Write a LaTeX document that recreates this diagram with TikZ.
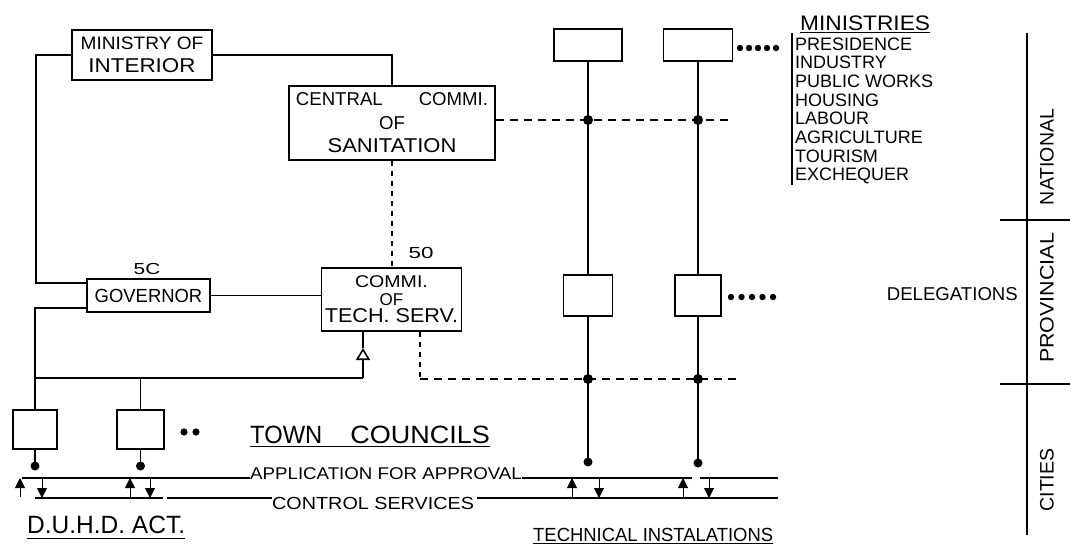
\documentclass[tikz,border=0pt]{standalone}
\usepackage{fontspec}
\setmainfont{Liberation Sans}
\usepackage{graphicx}
\usetikzlibrary{arrows.meta,calc}
\newcommand\sx[2]{\scalebox{#1}[1]{#2}}
\begin{document}
\begin{tikzpicture}[x=1pt,y=-1pt,
  box/.style={draw,line width=1.5pt,inner sep=0pt,align=center},
  ln/.style={line width=1.1pt},
  dsh/.style={line width=1.1pt,dash pattern=on 8pt off 6pt},
  dshv/.style={line width=1.1pt,dash pattern=on 5pt off 5pt},
  ar/.style={line width=1pt,-{Triangle[width=10pt,length=10pt]}},
  lbl/.style={inner sep=0pt}]
\useasboundingbox[fill=white] (0,0) rectangle (1071,546);

% ---- boxes
\node[box,minimum width=140pt,minimum height=50pt,font=\fontsize{18}{23}\selectfont] (mi) at (142,55)
  {\sx{1.06}{MINISTRY OF}\\\fontsize{20}{23}\selectfont\sx{1.12}{INTERIOR}};
\node[box,minimum width=206pt,minimum height=74pt,font=\fontsize{18.6}{23.5}\selectfont] (csan) at (392,123)
  {CENTRAL\hspace{36pt}COMMI.\\OF\\\fontsize{20}{23.5}\selectfont\sx{1.1}{SANITATION}};
\node[box,minimum width=123pt,minimum height=33pt,font=\fontsize{19}{23}\selectfont] (gov) at (148.5,295.5)
  {\sx{0.97}{GOVERNOR}};
\node[box,minimum width=140pt,minimum height=63pt,font=\fontsize{17}{17.5}\selectfont] (cts) at (391.5,299.5)
  {\sx{1.15}{COMMI.}\\OF\\\fontsize{20}{17.5}\selectfont\sx{1.08}{TECH. SERV.}};
\node[box,minimum width=68pt,minimum height=32pt] (m1) at (588,45) {};
\node[box,minimum width=69pt,minimum height=32pt] (m2) at (698,45) {};
\node[box,minimum width=49pt,minimum height=41pt] (d1) at (588,295.5) {};
\node[box,minimum width=46pt,minimum height=41pt] (d2) at (698,295.5) {};
\node[box,minimum width=44pt,minimum height=39pt] (t1) at (35,429.5) {};
\node[box,minimum width=47pt,minimum height=39pt] (t2) at (140.5,429.5) {};

% ---- labels
\node[lbl,font=\fontsize{16}{16}\selectfont] (n50) at (421,253) {\sx{1.4}{50}};
\node[lbl,font=\fontsize{16}{16}\selectfont] (n5c) at (147,269) {\sx{1.3}{5C}};
\node[lbl,anchor=base west,font=\fontsize{25}{25}\selectfont] (tc) at (250,443)
  {\sx{0.95}{TOWN}\hspace{28pt}\sx{1.08}{COUNCILS}};
\node[lbl,anchor=base west,font=\fontsize{17}{17}\selectfont] (app) at (250,479)
  {\sx{1.1}{APPLICATION FOR APPROVAL}};
\node[lbl,anchor=base west,font=\fontsize{17.5}{17.5}\selectfont] (ctl) at (272,509)
  {\sx{1.13}{CONTROL SERVICES}};
\node[lbl,anchor=base west,font=\fontsize{25}{25}\selectfont] (duhd) at (27,533)
  {\sx{0.98}{D.U.H.D. ACT.}};
\node[lbl,anchor=base west,font=\fontsize{19}{19}\selectfont] (tech) at (533,541)
  {\sx{0.97}{TECHNICAL INSTALATIONS}};
\node[lbl,anchor=base west,font=\fontsize{21}{21}\selectfont] (mins) at (800,30)
  {\sx{1.08}{MINISTRIES}};
\foreach \t [count=\i] in {PRESIDENCE,INDUSTRY,PUBLIC WORKS,HOUSING,LABOUR,AGRICULTURE,TOURISM,EXCHEQUER}
  \node[lbl,anchor=base west,font=\fontsize{18}{18}\selectfont] (ml\i) at (795,{50+18.7*(\i-1)}) {\t};
\node[lbl,anchor=base east,font=\fontsize{18.6}{18.6}\selectfont] (dele) at (1018,300) {DELEGATIONS};
\node[lbl,rotate=90,font=\fontsize{19.5}{19.5}\selectfont] (nat) at (1047,157) {NATIONAL};
\node[lbl,rotate=90,font=\fontsize{19.5}{19.5}\selectfont] (prov) at (1047,298) {\sx{1.1}{PROVINCIAL}};
\node[lbl,rotate=90,font=\fontsize{19.5}{19.5}\selectfont] (cit) at (1047,480) {CITIES};

% ---- underlines
\draw[ln] ([yshift=-3pt]tc.south west) -- ([yshift=-3pt]tc.south east);
\draw[ln] ([yshift=-5pt]duhd.south west) -- ([yshift=-5pt]duhd.south east);
\draw[ln] ([yshift=-2.5pt]tech.south west) -- ([yshift=-2.5pt]tech.south east);
\draw[ln] ([yshift=-2pt]mins.south west) -- ([yshift=-2pt]mins.south east);
\coordinate (lb0) at (792,33);
\coordinate (lb1) at (792,185);
\draw[ln] (lb0) -- (lb1);

% ---- left hierarchy
\coordinate (cA) at (36,283);
\draw[ln] (mi.west) -| (cA) -- (cA -| gov.west);
\draw[ln] (mi.east) -| (csan.north);
\draw[dshv] (csan.south) -- (csan.south |- cts.north);
\draw[ln] (gov.east) -- (gov.east -| cts.west);
\coordinate (cB) at (35,308);
\draw[ln] (cB -| gov.west) -| (t1.north);
\coordinate (cC) at (35,378);
\coordinate (cD) at (363,378);
\coordinate (cE) at (363,348);
\draw[ln] (cC) -- (cD);
\draw[ln,-{Triangle[open,width=14pt,length=12pt,line width=1.6pt]}] (cD) -- (cE);
\draw[ln] (cE) -- (cE |- cts.south);
\draw[ln] (t2.north |- cC) -- (t2.north);

% ---- dashed links
\coordinate (cF) at (420,379);
\coordinate (cG) at (738,379);
\draw[dshv] (cts.south -| cF) -- (cF);
\draw[dsh] (cF) -- (cG);
\coordinate (cH) at (730,120);
\draw[dsh] ([yshift=3pt]csan.east) -- (cH);

% ---- ministry / delegation columns
\coordinate (e1) at (588,462);
\coordinate (e2) at (698,463);
\draw[ln] (m1.south) -- (d1.north);
\draw[ln] (d1.south) -- (e1);
\draw[ln] (m2.south) -- (d2.north);
\draw[ln] (d2.south) -- (e2);
\foreach \p in {e1,e2} \fill (\p) circle (4.5pt);
\fill (m1.south |- cH) circle (5pt);
\fill (m2.south |- cH) circle (5pt);
\fill (m1.south |- cG) circle (5pt);
\fill (m2.south |- cG) circle (5pt);

% ---- ellipsis dots
\foreach \i in {0,...,4} \fill ({740+9*\i},48) circle (3.2pt);
\foreach \i in {0,...,4} \fill ({731+10.5*\i},297) circle (3.2pt);
\foreach \i in {0,1} \fill ({184+12*\i},432) circle (3.6pt);

% ---- town council stems
\coordinate (f1) at (35,466);
\coordinate (f2) at (140.5,466);
\draw[ln] (t1.south) -- (f1);
\draw[ln] (t2.south) -- (f2);
\foreach \p in {f1,f2} \fill (\p) circle (4.5pt);

% ---- application / control lines
\coordinate (ap0) at (22,478);
\coordinate (ap1) at (692,478);
\coordinate (ap2) at (700,478);
\coordinate (ap3) at (778,478);
\draw[ln] (ap0) -- (ap0 -| app.west);
\draw[ln] (app.east |- ap0) -- (ap1);
\draw[ln] (ap2) -- (ap3);
\coordinate (cs0) at (35,498);
\coordinate (cs1) at (163,498);
\coordinate (cs2) at (167,498);
\coordinate (cs3) at (778,498);
\draw[ln] (cs0) -- (cs1);
\draw[ln] (cs2) -- (cs2 -| ctl.west);
\draw[ln] ([xshift=3pt]ctl.east |- cs2) -- (cs3);
\coordinate (ua) at (20,497);
\draw[ar] (ua) -- (ua |- ap0);
\foreach \x/\n in {130/b,572/c,683/d} {
  \coordinate (u\n) at (\x,498);
  \draw[ar] (u\n) -- (u\n |- ap0);
}
\foreach \x/\n in {42/a,150/b,599/c,709/d} {
  \coordinate (v\n) at (\x,478);
  \draw[ar] (v\n) -- (v\n |- cs0);
}

% ---- level scale
\coordinate (s0) at (1027,33);
\coordinate (s1) at (1027,535);
\draw[ln] (s0) -- (s1);
\coordinate (k0) at (1000,220);
\coordinate (k1) at (1070,220);
\coordinate (k2) at (1000,384);
\coordinate (k3) at (1070,384);
\draw[ln] (k0) -- (k1);
\draw[ln] (k2) -- (k3);
\end{tikzpicture}
\end{document}
